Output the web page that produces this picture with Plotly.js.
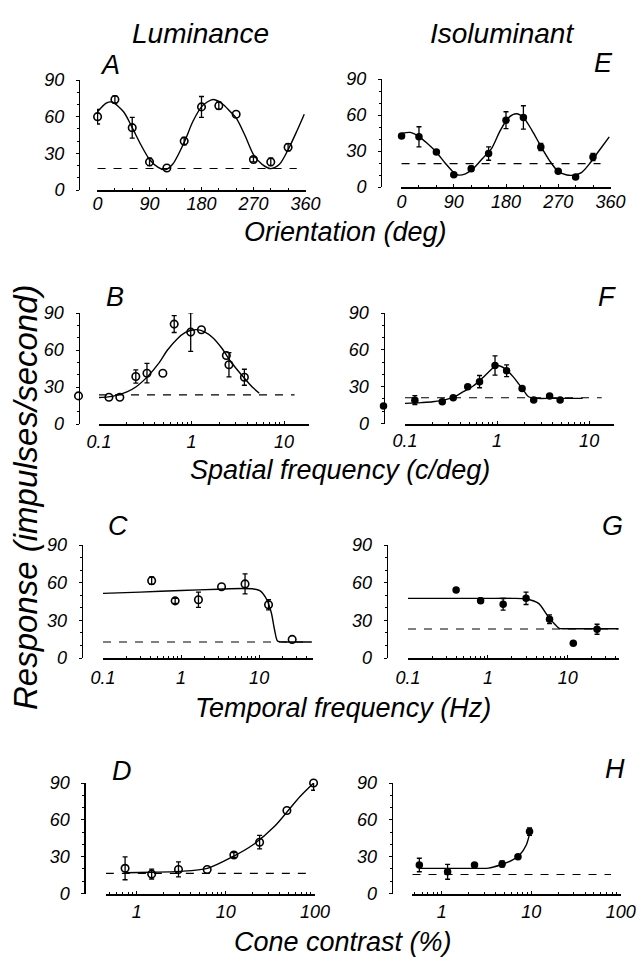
<!DOCTYPE html>
<html><head><meta charset="utf-8">
<script src="https://cdn.plot.ly/plotly-3.0.1.min.js"></script>
<style>html,body{margin:0;padding:0;background:#fff}#chart{width:642px;height:960px}</style>
</head><body><div id="chart"></div>
<script>
// ---------- DATA ----------
// A: Luminance, orientation
const aX = [0,30,60,90,120,150,180,210,240,270,300,330];
const aY = [60,74,51,23,18,40,68,69,62,25,23,35];
const aErr = [6,3,8.5,3,0,3,8.5,3,0,2,3,3];
const aFitX = [0,15,25,45,60,75,90,105,117,130,150,165,180,190,200,215,230,240,255,270,285,300,315,330,345,358];
const aFitY = [64,71,72,64,51,37,25,18.5,16.5,21,39,56,68,72,74,71,64,59,45,29,21,17.5,21,33,48,62];
const aBaseX = [0,345], aBaseY = [17.6,17.6];
// E: Isoluminant, orientation
const eX = [0,30,60,90,120,150,180,210,240,270,300,330];
const eY = [42.4,41.8,29.2,10.3,15.3,27.9,55.7,58,33.4,13.1,8.4,25];
const eErr = [1.5,8.4,2,0,2,5.6,7,9.7,3,0,0,3];
const eFitX = [0,15,30,45,60,75,90,97,110,125,140,155,170,185,198,210,225,240,255,270,285,296,310,325,340,358];
const eFitY = [44.6,45.5,42,36,29,20,12,10,11,16,24,32,47,58,61,58,47,34,22,13,10,9.8,12,20,30,41.8];
const eBaseX = [0,343], eBaseY = [19.5,19.5];
// B: Luminance, spatial frequency
const bX = [0.128,0.168,0.25,0.33,0.49,0.65,0.98,1.28,2.38,2.54,3.73];
const bY = [21.7,21.7,38.5,41.2,41.2,81,74.5,76.4,55.5,48,37.9];
const bErr = [0,0,5.4,7.9,0,6.8,15.6,0,0,9.8,6.5];
const bSpontY = [22.8];   // spontaneous rate, drawn on the y axis
const bFitX = [0.1,0.125,0.15,0.2,0.25,0.33,0.45,0.55,0.7,0.85,1.0,1.15,1.4,1.7,2.1,2.6,3.2,3.9,4.6,5.4];
const bFitY = [21.5,22,23,26,30,38,50,60,69,74,76,76.5,74.5,70,62,51.5,43,35.5,29.5,25];
const bBaseX = [0.1,13], bBaseY = [23.6,23.6];
// F: Isoluminant, spatial frequency
const fX = [0.128,0.254,0.334,0.48,0.645,0.95,1.27,1.87,2.5,3.72,4.84];
const fY = [19,17.7,21,30,34.1,47.2,43,28.6,19.1,22.3,19.1];
const fErr = [3.7,0,0,0,5,7.8,4.8,0,0,0,0];
const fSpontY = [14.2];   // spontaneous rate, drawn on the y axis
const fFitX = [0.1,0.15,0.2,0.29,0.37,0.43,0.55,0.66,0.8,0.95,1.05,1.27,1.5,1.7,2.0,2.2,2.7,4,6,8.5];
const fFitY = [16.4,17,17.7,19.9,23,25.9,30.5,35.5,41.5,46.5,47,43.6,38,32.7,25.5,21.8,20.5,20.5,20.5,20.5];
const fBaseX = [0.1,13.7], fBaseY = [21,21];
// C: Luminance, temporal frequency
const cX = [0.42,0.84,1.67,3.3,6.6,13.2,26.5];
const cY = [61.6,45.5,46.4,56.8,59,42.4,14.8];
const cErr = [3,2,6,0,8,4,0];
const cFitX = [0.1,0.3,1,3,6,8.5,10.2,12.4,14.3,15.7,17.2,19,25,47];
const cFitY = [51.5,52.5,53.8,54.8,55.3,55,53.6,47,36.2,22.9,13.5,12.8,12.8,12.8];
const cBaseX = [0.1,47], cBaseY = [12.7,12.7];
// G: Isoluminant, temporal frequency
const gX = [0.40,0.81,1.55,3.0,5.9,11.7,23.2];
const gY = [54.1,45.6,42.8,47.5,30.8,11.7,22.9];
const gErr = [0,2,4.6,4.9,3.5,0,4];
const gFitX = [0.1,0.5,1,2,3.05,4.3,5.5,6.7,7.8,9,15,43];
const gFitY = [47.5,47.5,47.5,47.5,47,43.5,34.2,27.6,23.6,23.3,23.3,23.3];
const gBaseX = [0.1,43], gBaseY = [23.1,23.1];
// D: Luminance, cone contrast
const dX = [0.74,1.47,2.94,6.17,12.3,23.9,48.4,96.4];
const dY = [20.5,15.8,19.6,19.6,31.4,41.8,67.6,90];
const dErr = [9.3,4,6.1,0,2,5.5,0,5.9];
const dFitX = [0.74,1.5,3,6.2,12.3,20,35,48,68,96];
const dFitY = [16.9,17.3,18,20.5,30.5,39.5,54.5,66,79,89.8];
const dBaseX = [0.45,80], dBaseY = [16.4,16.4];
// H: Isoluminant, cone contrast
const hX = [0.56,1.16,2.32,4.72,7.1,9.56];
const hY = [23.2,17.7,23.2,24,30,50.4];
const hErr = [5.5,6.1,1.5,2.5,1.5,3];
const hFitX = [0.56,1,2,3.3,4.5,6.2,7.4,8.8,9.9];
const hFitY = [20.5,20.5,20.5,20.7,23.2,27.3,31.4,39.5,53.2];
const hBaseX = [0.47,78], hBaseY = [15.5,15.5];

// tick labels
const yTicks = [0,30,60,90];
const yTickText = ['0','30','60','90'];
const orientTicks = [0,90,180,270,360];
const orientTickText = ['0','90','180','270','360'];
const freqTicks = [0.1,1,10];
const freqTickText = ['0.1','1','10'];
const contrastTicks = [1,10,100];
const contrastTickText = ['1','10','100'];

// texts
const colTitles = ['Luminance','Isoluminant'];
const rowTitles = ['Orientation (deg)','Spatial frequency (c/deg)','Temporal frequency (Hz)','Cone contrast (%)'];
const yTitle = 'Response (impulses/second)';

// ---------- LAYOUT GEOMETRY (pixels) ----------
const W = 642, H = 960;
const FONT = 'Liberation Sans, Arial, Helvetica, sans-serif';
const fx = p => p / W, fy = p => 1 - p / H;

const panels = [
  {L:'A', x0:97, x1:306, yx:79, y0:190, y90:80, type:'linear', range:[-1,361], tv:orientTicks, tt:orientTickText, open:true, xs:-4,
   d:[aX,aY,aErr], fit:[aFitX,aFitY], base:[aBaseX,aBaseY], sp:null, lp:[110,65]},
  {L:'E', x0:401, x1:611, yx:381, y0:187, y90:79, type:'linear', range:[-1,361], tv:orientTicks, tt:orientTickText, open:false, xs:-3,
   d:[eX,eY,eErr], fit:[eFitX,eFitY], base:[eBaseX,eBaseY], sp:null, lp:[603,63]},
  {L:'B', x0:99, x1:309, yx:78.5, y0:424, y90:313, type:'log', range:[-1,1.27], tv:freqTicks, tt:freqTickText, open:true, xs:0,
   d:[bX,bY,bErr], fit:[bFitX,bFitY], base:[bBaseX,bBaseY], sp:bSpontY, lp:[115,297]},
  {L:'F', x0:405, x1:614, yx:383.5, y0:423.5, y90:313, type:'log', range:[-1,1.27], tv:freqTicks, tt:freqTickText, open:false, xs:0,
   d:[fX,fY,fErr], fit:[fFitX,fFitY], base:[fBaseX,fBaseY], sp:fSpontY, lp:[607,297]},
  {L:'C', x0:103, x1:313, yx:81.7, y0:658, y90:545, type:'log', range:[-1,1.69], tv:freqTicks, tt:freqTickText, open:true, xs:2,
   d:[cX,cY,cErr], fit:[cFitX,cFitY], base:[cBaseX,cBaseY], sp:null, lp:[118,526]},
  {L:'G', x0:408, x1:619, yx:386.7, y0:658, y90:545, type:'log', range:[-1,1.64], tv:freqTicks, tt:freqTickText, open:false, xs:2,
   d:[gX,gY,gErr], fit:[gFitX,gFitY], base:[gBaseX,gBaseY], sp:null, lp:[612,526]},
  {L:'D', x0:106, x1:315, yx:84.3, y0:893.5, y90:783, type:'log', range:[-0.345,2.0], tv:contrastTicks, tt:contrastTickText, open:true, xs:1,
   d:[dX,dY,dErr], fit:[dFitX,dFitY], base:[dBaseX,dBaseY], sp:null, lp:[122,771]},
  {L:'H', x0:411.7, x1:620.7, yx:391.7, y0:893.5, y90:783, type:'log', range:[-0.337,2.0], tv:contrastTicks, tt:contrastTickText, open:false, xs:1,
   d:[hX,hY,hErr], fit:[hFitX,hFitY], base:[hBaseX,hBaseY], sp:null, lp:[615,769]}
];

const tickFont = {family:FONT, size:18, style:'italic', color:'black'};
const traces = [];
const layout = {
  width:W, height:H, margin:{l:0,r:0,t:0,b:0}, showlegend:false,
  paper_bgcolor:'white', plot_bgcolor:'rgba(0,0,0,0)', annotations:[]
};

let extraAxis = panels.length;
panels.forEach((p, i) => {
  const xn = i === 0 ? 'x' : 'x' + (i + 1);
  const yn = i === 0 ? 'y' : 'y' + (i + 1);
  const xk = i === 0 ? 'xaxis' : 'xaxis' + (i + 1);
  const yk = i === 0 ? 'yaxis' : 'yaxis' + (i + 1);
  layout[xk] = {
    domain:[fx(p.x0), fx(p.x1)], anchor:yn, type:p.type, range:p.range,
    showline:true, linecolor:'black', linewidth:2, ticks:'inside', ticklen:3, tickwidth:1, tickcolor:'black',
    tickmode:'array', tickvals:p.tv, ticktext:p.tt, tickfont:tickFont, ticklabelstandoff:p.xs,
    showgrid:false, zeroline:false,
    minor:{ticks:'inside', ticklen:2, tickwidth:1, tickcolor:'black', dtick: p.type === 'log' ? 'D1' : 30},
    fixedrange:true
  };
  layout[yk] = {
    domain:[fy(p.y0), fy(p.y90)], anchor:'free', position:fx(p.yx), range:[0,90],
    showline:true, linecolor:'black', linewidth:1.2, ticks:'outside', ticklen:3, tickwidth:1, tickcolor:'black',
    tickmode:'array', tickvals:yTicks, ticktext:yTickText, tickfont:tickFont, ticklabelstandoff:8,
    showgrid:false, zeroline:false,
    minor:{ticks:'outside', ticklen:2, tickwidth:1, tickcolor:'black', dtick:10},
    fixedrange:true
  };
  // baseline (dashed)
  traces.push({x:p.base[0], y:p.base[1], xaxis:xn, yaxis:yn, mode:'lines', cliponaxis:false,
    line:{color:'black', width:1.1, dash:'8px,8px'}, hoverinfo:'skip'});
  // fitted curve
  traces.push({x:p.fit[0], y:p.fit[1], xaxis:xn, yaxis:yn, mode:'lines', cliponaxis:false,
    line:{color:'black', width:1.4, shape:'spline', smoothing:0.8}, hoverinfo:'skip'});
  // error bars for points that have them
  const ex = [], ey = [], ee = [];
  p.d[2].forEach((e, k) => { if (e > 0) { ex.push(p.d[0][k]); ey.push(p.d[1][k]); ee.push(e); } });
  traces.push({x:ex, y:ey, xaxis:xn, yaxis:yn, mode:'markers', cliponaxis:false,
    marker:{size:1, color:'rgba(0,0,0,0)'},
    error_y:{type:'data', array:ee, visible:true, color:'black', thickness:1.3, width:2.5}, hoverinfo:'skip'});
  // markers
  const mk = p.open
    ? {symbol:'circle-open', size:7.5, color:'black', line:{width:1.6, color:'black'}}
    : {symbol:'circle', size:7.5, color:'black', line:{width:0}};
  traces.push({x:p.d[0], y:p.d[1], xaxis:xn, yaxis:yn, mode:'markers', cliponaxis:false, marker:mk});
  if (p.sp) {
    // spontaneous rate sits on the y axis line: a hidden helper x axis centred there
    extraAxis += 1;
    const sxn = 'x' + extraAxis, sxk = 'xaxis' + extraAxis;
    layout[sxk] = {domain:[fx(p.yx - 10), fx(p.yx + 10)], anchor:yn, range:[-1,1], visible:false, fixedrange:true};
    traces.push({x:p.sp.map(() => 0), y:p.sp, xaxis:sxn, yaxis:yn, mode:'markers', cliponaxis:false, marker:mk});
  }
  // panel letter
  layout.annotations.push({text:p.L, xref:'paper', yref:'paper', x:fx(p.lp[0]), y:fy(p.lp[1]),
    xanchor:'center', yanchor:'middle', showarrow:false,
    font:{family:FONT, size:27, style:'italic', color:'black'}});
});

const titleFont = {family:FONT, size:27, style:'italic', color:'black'};
// column titles
[[colTitles[0], 200, 33], [colTitles[1], 502, 33]].forEach(t => layout.annotations.push({
  text:t[0], xref:'paper', yref:'paper', x:fx(t[1]), y:fy(t[2]), xanchor:'center', yanchor:'middle',
  showarrow:false, font:{family:FONT, size:28, style:'italic', color:'black'}}));
// row (x-axis) titles
[[rowTitles[0], 346, 232], [rowTitles[1], 340, 470], [rowTitles[2], 343, 708], [rowTitles[3], 343, 942]].forEach(t =>
  layout.annotations.push({text:t[0], xref:'paper', yref:'paper', x:fx(t[1]), y:fy(t[2]),
    xanchor:'center', yanchor:'middle', showarrow:false, font:titleFont}));
// shared y title
layout.annotations.push({text:yTitle, xref:'paper', yref:'paper', x:fx(25), y:fy(497), textangle:-90,
  xanchor:'center', yanchor:'middle', showarrow:false, font:{family:FONT, size:33, style:'italic', color:'black'}});

Plotly.newPlot('chart', traces, layout, {staticPlot:true, displayModeBar:false});
</script>
</body></html>
